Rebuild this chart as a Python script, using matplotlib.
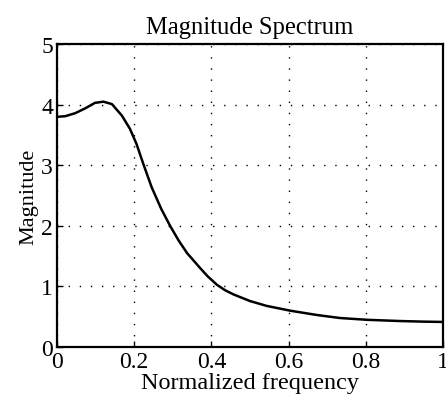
import matplotlib
matplotlib.use("Agg")
import matplotlib.pyplot as plt

# values
freq = [0.0, 0.021, 0.047, 0.073, 0.098, 0.12, 0.142, 0.168, 0.189, 0.206,
        0.222, 0.245, 0.27, 0.293, 0.315, 0.337, 0.355, 0.37, 0.39, 0.414,
        0.435, 0.457, 0.5, 0.543, 0.605, 0.673, 0.733, 0.804, 0.889, 0.95, 1.0]
mag = [3.80, 3.81, 3.86, 3.94, 4.03, 4.05, 4.01, 3.82, 3.60, 3.35,
       3.05, 2.64, 2.28, 2.0, 1.76, 1.55, 1.42, 1.31, 1.17, 1.03,
       0.94, 0.87, 0.76, 0.68, 0.60, 0.53, 0.48, 0.45, 0.43, 0.42, 0.415]

xticks = [0, 0.2, 0.4, 0.6, 0.8, 1]
xticklabels = ["0", "0.2", "0.4", "0.6", "0.8", "1"]
yticks = [0, 1, 2, 3, 4, 5]

plt.rcParams['font.family'] = ['Liberation Serif', 'DejaVu Serif']

fig = plt.figure(figsize=(4.46, 4.10), dpi=100)
ax = fig.add_axes([0.128, 0.151, 0.865, 0.739])

ax.plot(freq, mag, color="black", linewidth=1.8, solid_joinstyle="round")

ax.set_xlim(0, 1)
ax.set_ylim(0, 5)
ax.set_xticks(xticks)
ax.set_xticklabels(xticklabels)
ax.set_yticks(yticks)
ax.grid(True, color="black", linestyle=(0, (1, 7)), linewidth=1.0)
ax.tick_params(direction="in", length=4, width=1, pad=3, labelsize=17)
for s in ax.spines.values():
    s.set_linewidth(1.6)

ax.set_xlabel("Normalized frequency", fontsize=17.5, labelpad=0)
ax.set_ylabel("Magnitude", fontsize=16, labelpad=2)
ax.set_title("Magnitude Spectrum", fontsize=17.7, pad=8)

fig.savefig("out.png", dpi=100)
